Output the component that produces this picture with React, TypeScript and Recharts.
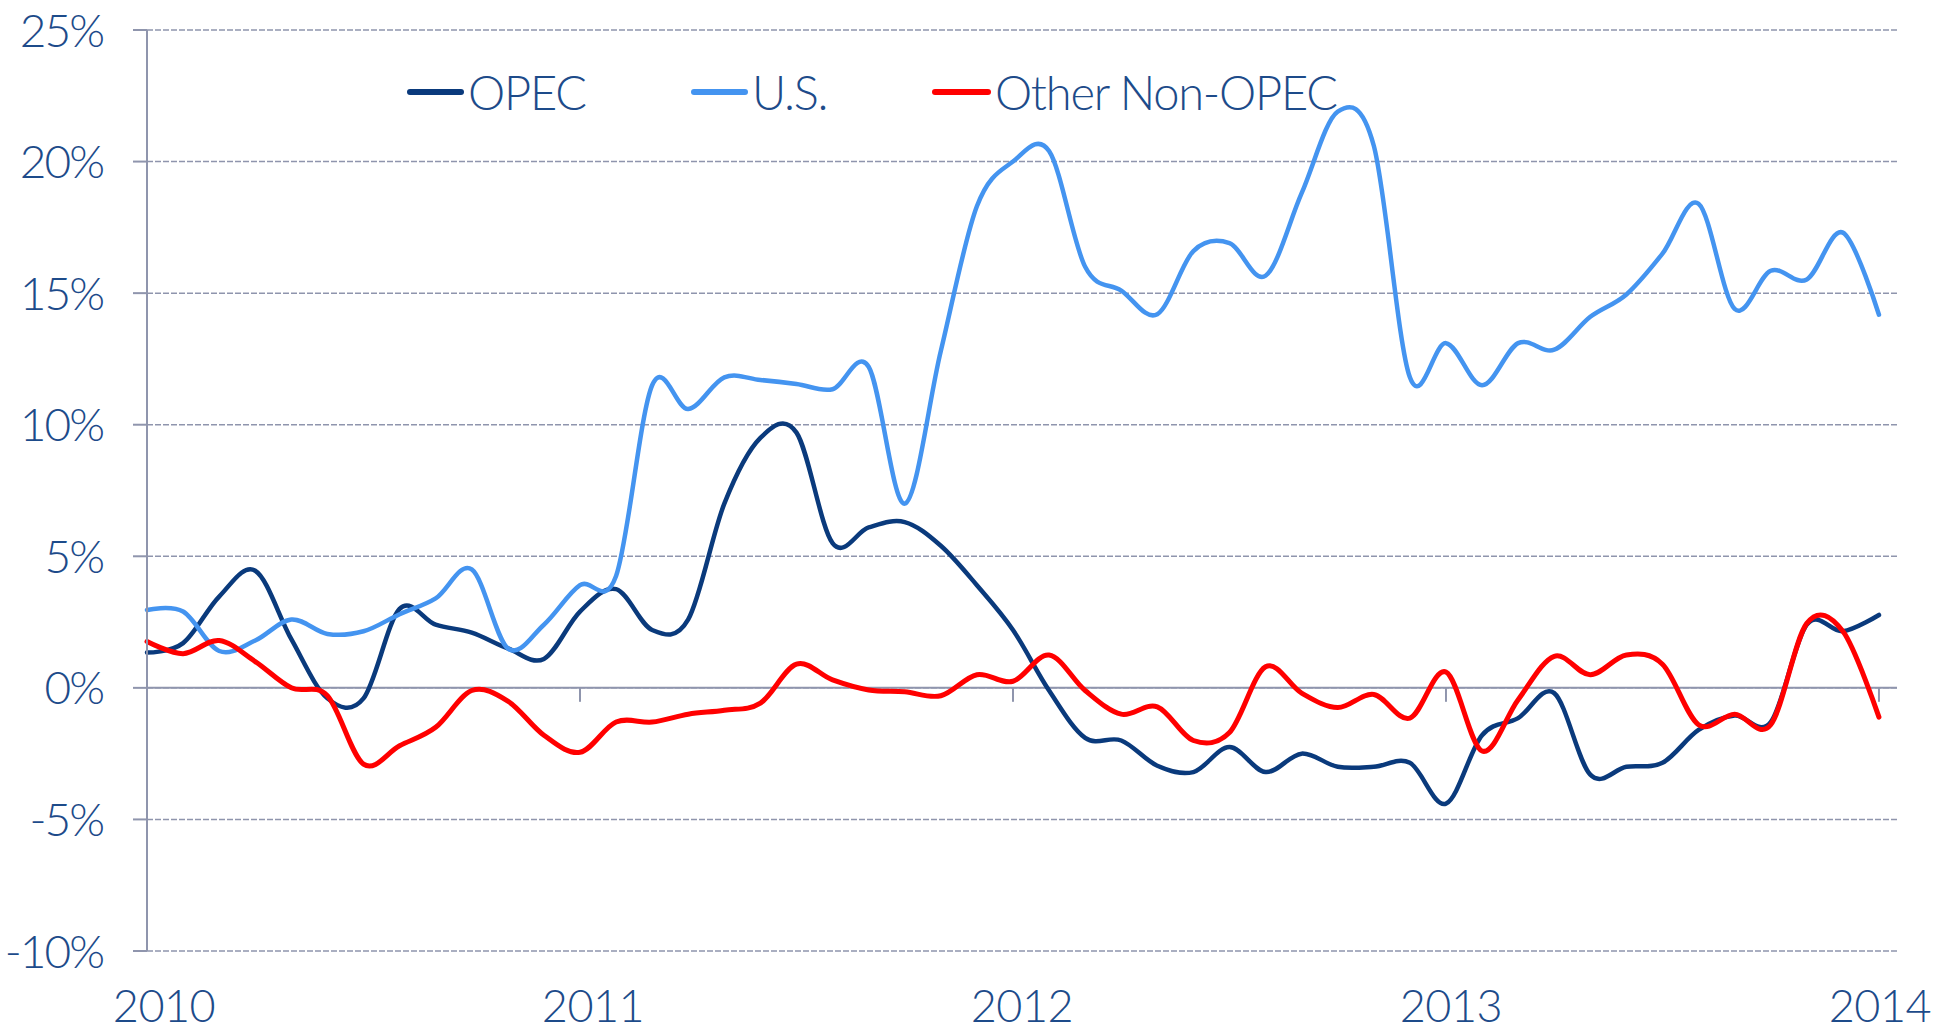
import React from 'react';
import { LineChart, Line, XAxis, YAxis, CartesianGrid, ReferenceLine } from 'recharts';

// Monthly growth rates, Jan 2010 .. Jan 2014 (month index 0..48)
const opec = [1.34, 1.7, 3.47, 4.45, 1.85, -0.4, -0.4, 3.0, 2.4, 2.1, 1.5, 1.1, 2.9, 3.75, 2.2, 2.6, 7.0, 9.5, 9.7, 5.5, 6.1, 6.3, 5.4, 3.9, 2.2, -0.1, -1.9, -2.0, -2.96, -3.2, -2.25, -3.2, -2.5, -3.0, -3.0, -2.85, -4.4, -1.8, -1.15, -0.2, -3.3, -3.0, -2.85, -1.6, -1.05, -1.3, 2.4, 2.15, 2.77];
const us = [2.96, 2.9, 1.4, 1.8, 2.6, 2.05, 2.15, 2.8, 3.4, 4.5, 1.5, 2.4, 3.9, 4.25, 11.5, 10.6, 11.8, 11.7, 11.55, 11.35, 12.2, 7.0, 12.8, 18.3, 20.0, 20.4, 16.0, 15.1, 14.2, 16.6, 16.9, 15.66, 18.8, 21.9, 20.6, 11.8, 13.1, 11.5, 13.1, 12.85, 14.1, 14.95, 16.5, 18.4, 14.4, 15.85, 15.52, 17.3, 14.18];
const other = [1.76, 1.3, 1.8, 1.0, 0.0, -0.3, -2.9, -2.2, -1.5, -0.1, -0.5, -1.8, -2.45, -1.3, -1.3, -1.0, -0.85, -0.58, 0.9, 0.3, -0.08, -0.15, -0.3, 0.5, 0.25, 1.25, -0.1, -1.0, -0.72, -2.0, -1.7, 0.8, -0.2, -0.75, -0.25, -1.15, 0.6, -2.4, -0.45, 1.2, 0.5, 1.25, 0.9, -1.4, -1.0, -1.4, 2.45, 2.15, -1.11];

const yearTicks = [0, 12, 24, 36, 48];
const yearLabels = ['2010', '2011', '2012', '2013', '2014'];
const yTicks = [-10, -5, 0, 5, 10, 15, 20, 25];

const seriesNames = ['OPEC', 'U.S.', 'Other Non-OPEC'];
const colors = { opec: '#0a3a7c', us: '#4494f0', other: '#ff0000' };

const data = opec.map((v, i) => ({ m: i, opec: v, us: us[i], other: other[i] }));

const TEXT = '#1d4b8a';
const AXIS = '#8f95ad';
const FONT = 'Lato, "Open Sans", sans-serif';

function catmullRom(context: any) {
  const k = 1 / 6;
  let x0 = NaN, y0 = NaN, x1 = NaN, y1 = NaN, x2 = NaN, y2 = NaN, pt = 0, line: number = NaN;
  const bez = (x: number, y: number) => {
    context.bezierCurveTo(x1 + k * (x2 - x0), y1 + k * (y2 - y0), x2 + k * (x1 - x), y2 + k * (y1 - y), x2, y2);
  };
  return {
    areaStart() { line = 0; },
    areaEnd() { line = NaN; },
    lineStart() { x0 = x1 = x2 = y0 = y1 = y2 = NaN; pt = 0; },
    lineEnd() {
      if (pt === 2) context.lineTo(x2, y2);
      else if (pt === 3) bez(x1, y1);
      if (line || (line !== 0 && pt === 1)) context.closePath();
      line = 1 - line;
    },
    point(x: number, y: number) {
      x = +x; y = +y;
      switch (pt) {
        case 0: pt = 1; if (line) context.lineTo(x, y); else context.moveTo(x, y); break;
        case 1: pt = 2; x1 = x; y1 = y; break;
        case 2: pt = 3; bez(x, y); break;
        default: bez(x, y); break;
      }
      x0 = x1; x1 = x2; x2 = x;
      y0 = y1; y1 = y2; y2 = y;
    },
  };
}

const YTick = (props: any) => {
  const { x, y, payload } = props;
  return (
    <text x={x} y={y + 16.5} textAnchor="end" fill={TEXT} fontSize={46} fontFamily={FONT} fontWeight={300} letterSpacing={-2}>
      {`${payload.value}%`}
    </text>
  );
};

const XTick = (props: any) => {
  const { x, y, payload } = props;
  const idx = yearTicks.indexOf(payload.value);
  return (
    <text x={x + 17 - 4 * idx} y={y + 71} textAnchor="middle" fill={TEXT} fontSize={45} fontFamily={FONT} fontWeight={300} letterSpacing={-0.5}>
      {yearLabels[idx]}
    </text>
  );
};

export default function App() {
  const W = 1951;
  const H = 1031;
  const legendItems = [
    { name: seriesNames[0], color: colors.opec, x1: 410, x2: 461, tx: 468 },
    { name: seriesNames[1], color: colors.us, x1: 694, x2: 745, tx: 752 },
    { name: seriesNames[2], color: colors.other, x1: 935, x2: 988, tx: 995 },
  ];
  return (
    <div style={{ position: 'relative', width: W, height: H }}>
      <style>{'body{margin:0;overflow:hidden}'}</style>
      <LineChart width={W} height={H} data={data} margin={{ top: 30, right: 54, bottom: 0, left: 0 }}>
        <CartesianGrid vertical={false} stroke={AXIS} strokeDasharray="6 2" strokeWidth={1.5} />
        <XAxis
          dataKey="m"
          type="number"
          domain={[0, 48.5]}
          ticks={yearTicks}
          interval={0}
          axisLine={false}
          tickLine={false}
          tickSize={0}
          tickMargin={0}
          height={80}
          tick={<XTick />}
        />
        <YAxis
          domain={[-10, 25]}
          ticks={yTicks}
          interval={0}
          width={147}
          axisLine={{ stroke: AXIS, strokeWidth: 2 }}
          tickLine={{ stroke: AXIS, strokeWidth: 2 }}
          tickSize={14}
          tickMargin={30}
          tick={<YTick />}
        />
        <ReferenceLine y={0} stroke={AXIS} strokeWidth={2} />
        {yearTicks.slice(1).map((t) => (
          <ReferenceLine key={t} segment={[{ x: t, y: 0 }, { x: t, y: -0.53 }]} stroke={AXIS} strokeWidth={2} />
        ))}
        <Line dataKey="opec" type={catmullRom as any} stroke={colors.opec} strokeWidth={4.5} dot={false} activeDot={false} isAnimationActive={false} strokeLinecap="round" strokeLinejoin="round" />
        <Line dataKey="us" type={catmullRom as any} stroke={colors.us} strokeWidth={4.5} dot={false} activeDot={false} isAnimationActive={false} strokeLinecap="round" strokeLinejoin="round" />
        <Line dataKey="other" type={catmullRom as any} stroke={colors.other} strokeWidth={5} dot={false} activeDot={false} isAnimationActive={false} strokeLinecap="round" strokeLinejoin="round" />
      </LineChart>
      <svg width={W} height={150} style={{ position: 'absolute', left: 0, top: 0, pointerEvents: 'none' }}>
        {legendItems.map((it) => (
          <g key={it.name}>
            <line x1={it.x1} x2={it.x2} y1={92} y2={92} stroke={it.color} strokeWidth={6} strokeLinecap="round" />
            <text x={it.tx} y={110} fill={TEXT} fontSize={47} fontFamily={FONT} fontWeight={300} letterSpacing={-1.2}>{it.name}</text>
          </g>
        ))}
      </svg>
    </div>
  );
}
